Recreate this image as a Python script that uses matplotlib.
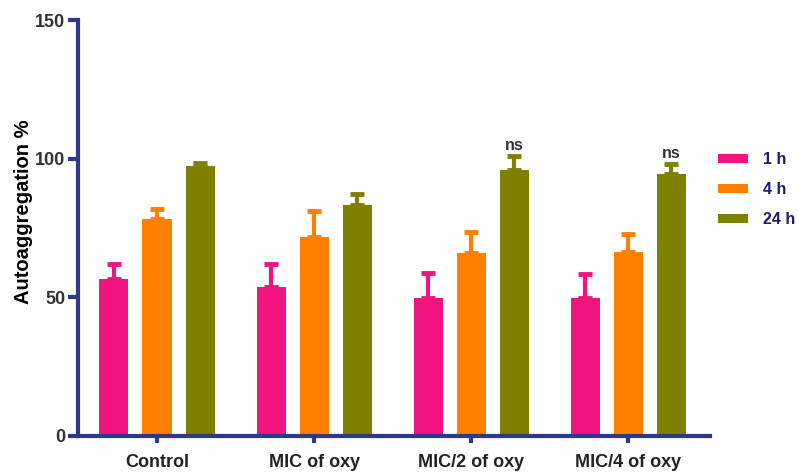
import numpy as np
import matplotlib
matplotlib.use("Agg")
import matplotlib.pyplot as plt
from matplotlib.patches import Patch

# data
groups = ["Control", "MIC of oxy", "MIC/2 of oxy", "MIC/4 of oxy"]
series = ["1 h", "4 h", "24 h"]
h1 = [56.7, 53.8, 49.8, 49.8]
h1_err = [5.3, 8.2, 9.0, 8.7]
h4 = [78.3, 71.8, 66.0, 66.4]
h4_err = [3.7, 9.4, 7.6, 6.5]
h24 = [97.3, 83.4, 96.0, 94.6]
h24_err = [1.3, 4.0, 5.0, 3.6]
ns_marks = ["", "", "ns", "ns"]

colors = ["#F0147F", "#FF8000", "#808000"]
navy = "#2E3A87"

plt.rcParams['font.family'] = ['Liberation Sans', 'DejaVu Sans']
plt.rcParams['font.weight'] = 'bold'

fig = plt.figure(figsize=(7.98, 4.74), dpi=100)
ax = fig.add_axes([0.0977, 0.0802, 0.792, 0.8776])

x = np.arange(len(groups))
w = 0.185
step = 0.274
vals = [h1, h4, h24]
errs = [h1_err, h4_err, h24_err]
for i, (v, e, c) in enumerate(zip(vals, errs, colors)):
    pos = x + (i - 1) * step
    ax.bar(pos, v, width=w, color=c, zorder=2)
    ax.errorbar(pos, v, yerr=[np.zeros(len(v)), e], fmt='none', ecolor=c,
                elinewidth=3, capsize=4.7, capthick=3.5, zorder=1)

# significance labels above 24 h bars
for xi, v, e, s in zip(x, h24, h24_err, ns_marks):
    if s:
        ax.text(xi + step, v + e + 1.0, s, ha='center', va='bottom',
                fontsize=11.5, fontweight='bold', color='#333333')

ax.set_xlim(-0.503, 3.52)
ax.set_ylim(0, 150)
ax.set_yticks([0, 50, 100, 150])
ax.set_xticks(x)
ax.set_xticklabels(groups)

for side in ['top', 'right']:
    ax.spines[side].set_visible(False)
for side in ['left', 'bottom']:
    ax.spines[side].set_color(navy)
    ax.spines[side].set_linewidth(3)
ax.tick_params(axis='y', length=7, width=3, color=navy, labelsize=13,
               labelcolor='#333333', pad=2)
ax.tick_params(axis='x', length=5, width=3, color=navy, labelsize=13,
               labelcolor='#222222', pad=8)
ax.set_ylabel("Autoaggregation %", fontsize=14.5, fontweight='bold')
ax.yaxis.set_label_coords(-0.071, 0.54)

handles = [Patch(facecolor=c, edgecolor='none') for c in colors]
leg = fig.legend(handles, series, loc='upper left', bbox_to_anchor=(0.882, 0.71),
                 frameon=False, fontsize=11.5, handlelength=1.85, handleheight=0.5,
                 labelspacing=0.95, handletextpad=0.95)
for t in leg.get_texts():
    t.set_color('#1C1C6B')
    t.set_fontweight('bold')

fig.savefig("out.png", dpi=100)
